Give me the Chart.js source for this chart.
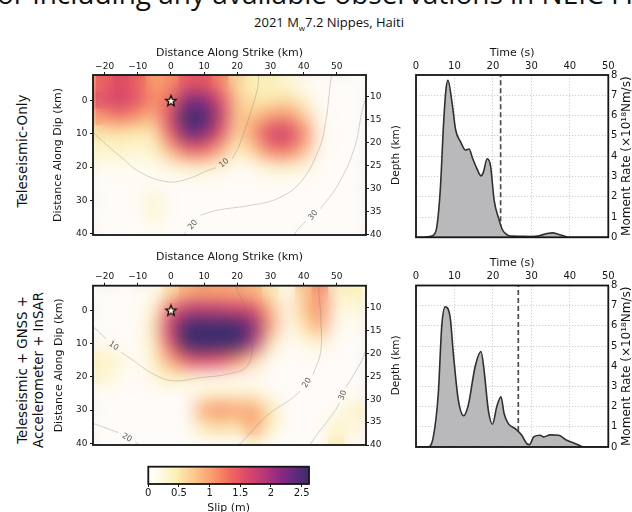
<!DOCTYPE html>
<html>
<head>
<meta charset="utf-8">
<script src="https://cdn.jsdelivr.net/npm/chart.js@4.4.1/dist/chart.umd.min.js"></script>
<style>
  body { margin: 0; width: 632px; height: 512px; overflow: hidden; background: #fff; position: relative; }
  canvas { position: absolute; }
  .txt { position: absolute; white-space: nowrap; color: #111; }
  .rot { transform: translate(-50%, -50%) rotate(-90deg); text-align: center; font-family: 'DejaVu Sans', sans-serif; }
</style>
</head>
<body>
<div class="txt" style="left:-3px;top:-21px;font:28px/28px 'Open Sans',sans-serif;">or including any available observations in NEIC FFMs</div>
<div class="txt" style="left:329px;top:14px;transform:translateX(-50%);font:13px/16px 'Open Sans',sans-serif;">2021 M<sub style="font-size:8px">w</sub>7.2 Nippes, Haiti</div>
<div class="txt rot" style="left:22px;top:151px;font-size:13.5px;line-height:16px;">Teleseismic-Only</div>
<div class="txt rot" style="left:31px;top:370px;font-size:13.3px;line-height:16px;">Teleseismic + GNSS +<br>Accelerometer + InSAR</div>

<canvas id="heatTele" width="372" height="200" style="left:40px;top:42px"></canvas>
<canvas id="heatJoint" width="372" height="206" style="left:40px;top:246px"></canvas>
<canvas id="rateTele" width="232" height="200" style="left:400px;top:42px"></canvas>
<canvas id="rateJoint" width="232" height="206" style="left:400px;top:246px"></canvas>
<canvas id="slipBar" width="220" height="60" style="left:120px;top:460px"></canvas>

<script>
  // Slip grids (m), rows = distance along dip, columns = distance along strike
  const strikeKm = [-25, -20, -15, -10, -5, 0, 5, 10, 15, 20, 25, 30, 35, 40, 45, 50, 55, 60];
  const dipKm = [-10, -5, 0, 5, 10, 15, 20, 25, 30, 35, 40];

  const slipTele = [
    [0.8, 1.1, 1.3, 1.1, 0.9, 0.9, 1.1, 1.1, 0.9, 0.5, 0.3, 0.3, 0.2, 0.1, 0, 0, 0, 0],
    [0.9, 1.4, 1.6, 1.4, 1.0, 1.1, 1.5, 1.5, 1.2, 0.6, 0.45, 0.4, 0.3, 0.15, 0, 0, 0, 0],
    [1.0, 1.6, 1.75, 1.5, 1.1, 1.35, 2.2, 2.2, 1.6, 0.75, 0.5, 0.5, 0.6, 0.35, 0.05, 0, 0, 0],
    [0.7, 1.1, 1.25, 1.05, 0.85, 1.65, 2.7, 2.6, 1.8, 0.75, 0.8, 1.05, 1.15, 0.75, 0.1, 0, 0, 0],
    [0.35, 0.5, 0.5, 0.45, 0.5, 1.4, 2.3, 2.2, 1.5, 0.6, 1.05, 1.7, 1.75, 1.2, 0.2, 0, 0, 0],
    [0.25, 0.35, 0.35, 0.3, 0.35, 0.85, 1.35, 1.35, 0.9, 0.35, 0.7, 1.2, 1.3, 0.85, 0.1, 0, 0, 0],
    [0.1, 0.15, 0.15, 0.15, 0.15, 0.25, 0.35, 0.35, 0.25, 0.1, 0.15, 0.35, 0.35, 0.25, 0, 0, 0, 0],
    [0, 0, 0, 0, 0, 0, 0, 0, 0, 0, 0, 0, 0, 0, 0, 0, 0, 0],
    [0, 0, 0, 0, 0.35, 0, 0, 0, 0, 0, 0, 0, 0, 0, 0, 0, 0, 0],
    [0, 0, 0, 0, 0.3, 0, 0, 0, 0, 0, 0, 0, 0, 0, 0, 0, 0, 0],
    [0, 0, 0, 0, 0, 0, 0, 0, 0, 0, 0, 0, 0, 0, 0, 0, 0, 0]
  ];

  const slipJoint = [
    [0, 0, 0, 0, 0, 0.2, 0.4, 0.5, 0.5, 0.4, 0.3, 0.1, 0, 0.5, 0.9, 0.4, 0.4, 0.1],
    [0, 0, 0, 0, 0.15, 0.55, 0.95, 1.0, 1.0, 0.95, 0.9, 0.5, 0.1, 0.7, 1.15, 0.3, 0.45, 0.1],
    [0, 0, 0, 0, 0.3, 1.4, 1.85, 1.85, 1.8, 1.75, 1.6, 0.9, 0.1, 0.7, 1.15, 0.2, 0.25, 0],
    [0, 0, 0, 0, 0.5, 1.8, 2.8, 2.95, 2.95, 2.85, 2.2, 1.0, 0.1, 0.5, 0.95, 0.1, 0.1, 0],
    [0, 0.1, 0, 0, 0.4, 1.5, 2.6, 2.95, 2.95, 2.7, 1.9, 0.5, 0, 0.2, 0.3, 0, 0, 0],
    [0.3, 0.4, 0.25, 0, 0.35, 0.95, 1.45, 1.6, 1.5, 1.15, 0.6, 0.1, 0, 0, 0, 0, 0, 0],
    [0.15, 0.35, 0.15, 0, 0.25, 0.45, 0.35, 0.2, 0.15, 0.05, 0, 0, 0, 0, 0, 0, 0, 0],
    [0, 0, 0, 0, 0, 0, 0, 0.25, 0.3, 0.3, 0.3, 0.1, 0, 0, 0, 0, 0, 0],
    [0, 0, 0, 0, 0, 0, 0, 1.0, 1.1, 1.0, 1.0, 0.5, 0, 0, 0, 0, 0.4, 0.1],
    [0, 0, 0, 0, 0, 0, 0, 0.5, 0.6, 0.5, 1.05, 0.4, 0, 0, 0, 0.35, 0.25, 0],
    [0, 0, 0, 0, 0, 0, 0, 0, 0, 0, 0.3, 0, 0, 0, 0, 0.5, 0, 0]
  ];

  // Slab depth contours [strike, dip], null = gap for the label
  const teleContours = [
    [[-23.5, 9.5], [-21.3, 11.6], [-15, 17], [-9.2, 21.6], [-1.2, 24.4], [4.9, 23.6], [10.9, 21.1], [13.5, 20.2], null,
     [18.5, 17.5], [20.5, 13.6], [23, 6.7], [26, -3.3], [26.5, -7.8]],
    [[3.5, 40.5], [4.6, 39.6], null, [8.9, 34.5], [13.9, 33], [24, 31.5], [32, 29.5], [39, 24.6], [44.6, 14.6], [46.6, 6.7], [48.2, -6.3], [48.6, -7.8]],
    [[37, 40.5], [38.2, 38.8], [40.6, 36.4], null, [45.1, 32.5], [50.2, 25.6], [55.2, 14.6], [57.7, 2.7], [58.8, -1]]
  ];
  const teleContourLabels = [[16, 18.8, '10', -40], [6.6, 37.4, '20', -50], [42.9, 34.5, '30', -50]];

  const jointContours = [
    [[-23.5, 5], [-21.8, 6.3], [-19.6, 8.6], null, [-15, 12.6], [-13.3, 13.7], [-5.2, 19.2], [0.8, 21.2], [8.9, 20.2], [16.9, 19.2],
     [23, 16.7], [24.5, 9.7], [23.5, 1.8], [20, -6.2], [19.5, -7.5]],
    [[-23.5, 34], [-21.8, 34.6], [-15.8, 36.8], null, [-10.8, 39.6], [-9.5, 40.5]],
    [[20, 40.5], [21, 40], [29, 31.6], [36.1, 26.7], [39, 24.3], null, [42.8, 19.3], [45.1, 12.7], [45.2, 2.8], [44.6, -5.2], [44.5, -7.5]],
    [[42, 40.5], [43.1, 38.6], [49.2, 30.6], [50.8, 27.8], null, [52.8, 23.1], [57.2, 15.7], [58.8, 12]]
  ];
  const jointContourLabels = [[-17.3, 10.7, '10', 35], [-13.3, 38.3, '20', 30], [41, 21.8, '20', -58], [51.8, 25.5, '30', -70]];

  const hypocenter = [0, 0];

  // Moment rate functions
  const timeTele = [0, 2, 3, 4, 4.5, 5.4, 6.3, 7.2, 7.8, 8.3, 9.4, 10.3, 11.6, 12.9, 13.8, 14.7, 15.8, 16.9, 17.5, 18.5, 19.4, 20.3, 21.6, 22.5, 23.8, 25, 27, 30, 32, 34, 35.5, 37, 39, 40, 50];
  const rateTele = [0, 0, 0.02, 0.06, 0.1, 0.5, 2.3, 5.7, 7.3, 7.74, 6.6, 5.3, 4.7, 4.3, 4.35, 3.9, 3.4, 3.03, 3.2, 3.87, 3.5, 1.85, 0.86, 0.36, 0.11, 0.06, 0.05, 0.04, 0.08, 0.18, 0.22, 0.15, 0.03, 0, 0];
  const timeJoint = [0, 3, 4.5, 5.8, 6.7, 7.6, 8.9, 9.7, 11.0, 12.4, 13.6, 15.4, 16.9, 17.7, 18.8, 19.9, 21.0, 22.1, 22.9, 24.0, 25.7, 27.5, 28.8, 29.5, 30.6, 32.3, 33.2, 34.9, 37.1, 39.2, 41.0, 43.1, 44, 50];
  const rateJoint = [0, 0, 0.5, 2.66, 6.0, 6.94, 6.4, 4.65, 2.33, 1.55, 2.08, 4.0, 4.73, 3.8, 1.83, 1.13, 2.0, 2.49, 1.66, 1.16, 0.92, 0.58, 0.17, 0.12, 0.5, 0.58, 0.5, 0.6, 0.58, 0.33, 0.2, 0.03, 0, 0];
  const durationTele = 22.0;
  const durationJoint = 26.6;

  // Tick labels
  const strikeTicks = [-20, -10, 0, 10, 20, 30, 40, 50];
  const dipTicks = [0, 10, 20, 30, 40];
  const depthTicks = [10, 15, 20, 25, 30, 35, 40];
  const timeTicks = [0, 10, 20, 30, 40, 50];
  const rateTicks = [0, 1, 2, 3, 4, 5, 6, 7, 8];
  const slipTicks = [0, 0.5, 1, 1.5, 2, 2.5];
  const slipTickLabels = ['0', '0.5', '1', '1.5', '2', '2.5'];

  // Colour map
  const slipStops = [0, 0.15, 0.45, 0.75, 1.05, 1.35, 1.6, 1.9, 2.15, 2.4, 2.62];
  const slipColors = ['#fefbf8', '#fffbee', '#fbf0b6', '#fbc88e', '#f99b6c', '#f1665e', '#de4968', '#b73779', '#8c2981', '#5f2a7f', '#3c2c6e'];

  Chart.defaults.font.family = "'DejaVu Sans', sans-serif";
  Chart.defaults.color = '#161616';

  const stopRgb = slipColors.map(h => { const n = parseInt(h.slice(1), 16); return [n >> 16 & 255, n >> 8 & 255, n & 255]; });
  function slipColor(v) {
    if (v <= slipStops[0]) return slipColors[0];
    for (let i = 1; i < slipStops.length; i++) {
      if (v <= slipStops[i]) {
        const t = (v - slipStops[i - 1]) / (slipStops[i] - slipStops[i - 1]);
        const a = stopRgb[i - 1], b = stopRgb[i];
        return 'rgb(' + a.map((c, k) => Math.round(c + (b[k] - c) * t)).join(',') + ')';
      }
    }
    return slipColors[slipColors.length - 1];
  }

  function fixBox(size) {
    return function (s) {
      if (s.isHorizontal()) s.height = size; else s.width = size;
      s.paddingLeft = s.paddingRight = s.paddingTop = s.paddingBottom = 0;
    };
  }
  function setTicks(list) {
    return function (s) { s.ticks = list.map(v => ({ value: v })); };
  }
  const fmt = v => String(v).replace('-', '\u2212');

  // split a contour at its null gaps
  function segments(line) {
    const out = [[]];
    line.forEach(p => {
      if (p) out[out.length - 1].push({ x: p[0], y: p[1] });
      else out.push([]);
    });
    return out;
  }

  // star marker for hypocentre
  const starImg = document.createElement('canvas');
  starImg.width = 14; starImg.height = 14;
  (function () {
    const c = starImg.getContext('2d');
    c.beginPath();
    for (let i = 0; i < 10; i++) {
      const r = i % 2 ? 2.4 : 5.6;
      const a = -Math.PI / 2 + i * Math.PI / 5;
      c.lineTo(7 + r * Math.cos(a), 7.3 + r * Math.sin(a));
    }
    c.closePath();
    c.fillStyle = '#fff6dc';
    c.fill();
    c.lineWidth = 1.3;
    c.strokeStyle = '#111';
    c.stroke();
  })();

  const heatBlur = {
    id: 'heatBlur',
    afterDatasetDraw(chart, args, opts) {
      if (args.index !== 0) return;
      const a = chart.chartArea, ctx = chart.ctx;
      ctx.save();
      ctx.beginPath();
      ctx.rect(a.left, a.top, a.right - a.left, a.bottom - a.top);
      ctx.clip();
      ctx.filter = 'blur(' + opts.radius + 'px)';
      ctx.drawImage(chart.canvas, 0, 0);
      ctx.restore();
    }
  };

  const frame = {
    id: 'frame',
    afterDatasetsDraw(chart) {
      const a = chart.chartArea, ctx = chart.ctx;
      ctx.save();
      ctx.lineWidth = 1.8;
      ctx.strokeStyle = '#151515';
      ctx.strokeRect(a.left, a.top, a.right - a.left, a.bottom - a.top);
      ctx.restore();
    }
  };

  const sideTitle = {
    id: 'sideTitle',
    afterDraw(chart, args, o) {
      if (!o.text) return;
      const a = chart.chartArea, ctx = chart.ctx;
      ctx.save();
      ctx.translate(a.right + o.offset, (a.top + a.bottom) / 2);
      ctx.rotate(-Math.PI / 2);
      ctx.font = o.size + "px 'DejaVu Sans'";
      ctx.fillStyle = '#161616';
      ctx.textAlign = 'center';
      ctx.textBaseline = 'middle';
      ctx.fillText(o.text, 0, 0);
      ctx.restore();
    }
  };

  const contourText = {
    id: 'contourText',
    afterDatasetsDraw(chart, args, o) {
      if (!o.items) return;
      const ctx = chart.ctx, x = chart.scales.x, y = chart.scales.y;
      ctx.save();
      ctx.font = "8px 'DejaVu Sans'";
      ctx.fillStyle = '#5a5a5a';
      ctx.textAlign = 'center';
      ctx.textBaseline = 'middle';
      o.items.forEach(it => {
        ctx.save();
        ctx.translate(x.getPixelForValue(it[0]), y.getPixelForValue(it[1]));
        ctx.rotate(it[3] * Math.PI / 180);
        ctx.fillText(it[2], 0, 0);
        ctx.restore();
      });
      ctx.restore();
    }
  };

  function cellRadius(chart) {
    const x = chart.scales.x, y = chart.scales.y;
    const step = strikeKm[1] - strikeKm[0];
    const w = Math.abs(x.getPixelForValue(step) - x.getPixelForValue(0));
    const h = Math.abs(y.getPixelForValue(step) - y.getPixelForValue(0));
    return Math.max(w, h) * 1.05 / Math.SQRT2;
  }

  function heatChart(id, slip, contours, labels, L) {
    const cells = [];
    dipKm.forEach((d, i) => strikeKm.forEach((s, j) => cells.push({ x: s, y: d, v: slip[i][j] })));

    const datasets = [{
      data: cells,
      order: 10,
      clip: 0,
      pointStyle: 'rect',
      borderWidth: 0,
      pointRadius: c => cellRadius(c.chart),
      backgroundColor: c => slipColor(c.raw ? c.raw.v : 0)
    }];
    contours.forEach(line => segments(line).forEach(seg => datasets.push({
      data: seg,
      showLine: true,
      order: 2,
      clip: 0,
      pointRadius: 0,
      tension: 0.4,
      borderColor: 'rgba(120,120,120,0.4)',
      borderWidth: 0.8
    })));
    datasets.push({
      data: [{ x: hypocenter[0], y: hypocenter[1] }],
      order: 0,
      pointStyle: starImg,
      pointRadius: 6
    });

    new Chart(document.getElementById(id), {
      type: 'scatter',
      data: { datasets: datasets },
      options: {
        responsive: false,
        animation: false,
        events: [],
        layout: { padding: { left: 0, right: 0, top: 0, bottom: L.padBottom } },
        plugins: {
          legend: { display: false },
          tooltip: { enabled: false },
          heatBlur: { radius: 8.5 },
          contourText: { items: labels },
          sideTitle: { text: 'Depth (km)', offset: 30.7, size: 10.5 }
        },
        scales: {
          x: {
            type: 'linear', position: 'top', min: -23.5, max: 58.8,
            afterBuildTicks: setTicks(strikeTicks),
            afterFit: fixBox(L.top),
            ticks: { font: { size: 9 }, padding: L.xTickPad, autoSkip: false, maxRotation: 0, callback: fmt },
            grid: { drawOnChartArea: false, tickLength: 3, tickColor: '#161616' },
            border: { display: false },
            title: { display: true, text: 'Distance Along Strike (km)', font: { size: 11 }, padding: { top: L.xTitlePad, bottom: 0 } }
          },
          y: {
            type: 'linear', position: 'left', reverse: true, min: L.dip[0], max: L.dip[1],
            afterBuildTicks: setTicks(dipTicks),
            afterFit: fixBox(53),
            ticks: { font: { size: 9 }, padding: 2.5, autoSkip: false, callback: fmt },
            grid: { drawOnChartArea: false, tickLength: 3, tickColor: '#161616' },
            border: { display: false },
            title: { display: true, text: 'Distance Along Dip (km)', font: { size: 11 }, padding: { top: L.yTitlePad, bottom: 0 } }
          },
          y2: {
            type: 'linear', position: 'right', reverse: true, min: L.depth[0], max: L.depth[1],
            afterBuildTicks: setTicks(depthTicks),
            afterFit: fixBox(46),
            ticks: { font: { size: 9 }, padding: 1, autoSkip: false },
            grid: { drawOnChartArea: false, tickLength: 3, tickColor: '#161616' },
            border: { display: false }
          }
        }
      },
      plugins: [heatBlur, contourText, frame, sideTitle]
    });
  }

  function rateChart(id, times, rates, duration, L) {
    const curve = times.map((t, i) => ({ x: t, y: rates[i] }));
    const top = rateTicks[rateTicks.length - 1];
    const gridOpts = { drawTicks: false, color: '#c2c2c2', lineWidth: 0.8 };
    new Chart(document.getElementById(id), {
      type: 'line',
      data: {
        datasets: [
          {
            data: curve, fill: 'origin', backgroundColor: '#b9b9bc', borderColor: '#303030',
            borderWidth: 1.6, pointRadius: 0, cubicInterpolationMode: 'monotone'
          },
          {
            data: [{ x: duration, y: 0 }, { x: duration, y: top }], fill: false,
            borderColor: '#4a4a4a', borderWidth: 1.7, borderDash: [5, 3], pointRadius: 0
          }
        ]
      },
      options: {
        responsive: false,
        animation: false,
        events: [],
        layout: { padding: { left: 16, right: 0, top: 0, bottom: L.padBottom } },
        plugins: {
          legend: { display: false },
          tooltip: { enabled: false },
          sideTitle: { text: 'Moment Rate (\u00d710\u00b9\u2078Nm/s)', offset: 18.7, size: 12 }
        },
        scales: {
          x: {
            type: 'linear', position: 'top', min: 0, max: 50,
            afterBuildTicks: setTicks(timeTicks),
            afterFit: fixBox(L.top),
            ticks: { font: { size: 10 }, padding: L.xTickPad, autoSkip: false, maxRotation: 0 },
            grid: gridOpts,
            border: { display: false, dash: [1.2, 1.8] },
            title: { display: true, text: 'Time (s)', font: { size: 11 }, padding: { top: L.titlePad, bottom: 0 } }
          },
          y: {
            type: 'linear', position: 'right', min: 0, max: top,
            afterBuildTicks: setTicks(rateTicks),
            afterFit: fixBox(23.7),
            ticks: { font: { size: 10 }, padding: 2.7, autoSkip: false },
            grid: gridOpts,
            border: { display: false, dash: [1.2, 1.8] }
          }
        }
      },
      plugins: [frame, sideTitle]
    });
  }

  heatChart('heatTele', slipTele, teleContours, teleContourLabels,
    { top: 33, padBottom: 5.5, xTitlePad: 4.1, xTickPad: 0, yTitlePad: 11.7, dip: [-7.76, 40.45], depth: [5.33, 40.1] });
  heatChart('heatJoint', slipJoint, jointContours, jointContourLabels,
    { top: 39.7, padBottom: 5.3, xTitlePad: 4.7, xTickPad: 1, yTitlePad: 12.7, dip: [-7.45, 40.5], depth: [5.25, 40.0] });

  rateChart('rateTele', timeTele, rateTele, durationTele, { top: 33, padBottom: 4.7, titlePad: 4.1, xTickPad: 2.8 });
  rateChart('rateJoint', timeJoint, rateJoint, durationJoint, { top: 39.5, padBottom: 5, titlePad: 10.4, xTickPad: 3 });

  // Colour bar
  const slipBar = {
    id: 'slipBar',
    beforeDatasetsDraw(chart) {
      const a = chart.chartArea, ctx = chart.ctx, x = chart.scales.x;
      const lo = slipStops[0], hi = slipStops[slipStops.length - 1];
      const g = ctx.createLinearGradient(x.getPixelForValue(lo), 0, x.getPixelForValue(hi), 0);
      slipStops.forEach((s, i) => g.addColorStop((s - lo) / (hi - lo), i === 0 ? '#ffffff' : slipColors[i]));
      ctx.save();
      ctx.fillStyle = g;
      ctx.fillRect(a.left, a.top, a.right - a.left, a.bottom - a.top);
      ctx.restore();
    }
  };

  new Chart(document.getElementById('slipBar'), {
    type: 'scatter',
    data: { datasets: [] },
    options: {
      responsive: false,
      animation: false,
      events: [],
      layout: { padding: { left: 28.3, right: 31, top: 6.7, bottom: 0 } },
      plugins: { legend: { display: false }, tooltip: { enabled: false } },
      scales: {
        x: {
          type: 'linear', position: 'bottom', min: 0, max: slipStops[slipStops.length - 1],
          afterBuildTicks: setTicks(slipTicks),
          afterFit: fixBox(36),
          ticks: { font: { size: 10 }, padding: 0, autoSkip: false, maxRotation: 0, callback: (v, i) => slipTickLabels[i] },
          grid: { drawOnChartArea: false, tickLength: 3, tickColor: '#161616' },
          border: { display: false },
          title: { display: true, text: 'Slip (m)', font: { size: 11 }, padding: { top: 0, bottom: 4.9 } }
        },
        y: { display: false, min: 0, max: 1, afterFit: fixBox(0) }
      }
    },
    plugins: [slipBar, frame]
  });
</script>
</body>
</html>
